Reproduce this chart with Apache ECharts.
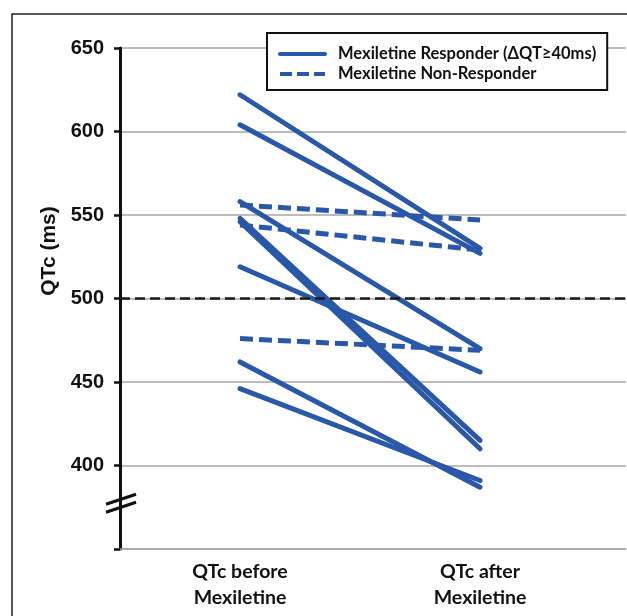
<!DOCTYPE html>
<html>
<head>
<meta charset="utf-8">
<script src="https://cdn.jsdelivr.net/npm/echarts@6/dist/echarts.min.js"></script>
<style>html,body{margin:0;padding:0;background:#fff;}#c{width:627px;height:616px;}</style>
</head>
<body>
<div id="c"></div>
<script>
// ---- data ----
const xLabels = ['QTc before\nMexiletine', 'QTc after\nMexiletine'];
const respBefore = [622, 604, 558, 548, 546, 519, 462, 446];
const respAfter  = [530, 527, 470, 415, 410, 456, 387, 391];
const nonBefore  = [556, 544, 476];
const nonAfter   = [547, 529, 469];
const yTicks = [350, 400, 450, 500, 550, 600, 650];
const threshold = 500;
const respName = 'Mexiletine Responder (ΔQT≥40ms)';
const nonName = 'Mexiletine Non-Responder';

const BLUE = '#2A58A8';
const series = [];
respBefore.forEach((b, i) => {
  series.push({
    name: respName, type: 'line', symbol: 'none', silent: true,
    data: [[0, b], [1, respAfter[i]]],
    lineStyle: { color: BLUE, width: 5, type: 'solid', cap: 'round' },
    itemStyle: { color: BLUE }
  });
});
nonBefore.forEach((b, i) => {
  series.push({
    name: nonName, type: 'line', symbol: 'none', silent: true,
    data: [[0, b], [1, nonAfter[i]]],
    lineStyle: { color: BLUE, width: 5, type: [13, 6] },
    itemStyle: { color: BLUE }
  });
});
// threshold line
series.push({
  type: 'line', data: [], silent: true,
  markLine: {
    silent: true, symbol: 'none', label: { show: false },
    lineStyle: { color: '#1a1a1a', width: 2.5, type: [10, 5] },
    data: [{ yAxis: threshold }]
  }
});

const chart = echarts.init(document.getElementById('c'), null, { renderer: 'canvas' });
chart.setOption({
  animation: false,
  backgroundColor: '#fff',
  grid: { left: 120, right: 1, top: 48, bottom: 67, containLabel: false },
  legend: {
    data: [
      { name: respName, itemStyle: { opacity: 0 }, lineStyle: { width: 4, type: 'solid', color: BLUE } },
      { name: nonName, itemStyle: { opacity: 0 }, lineStyle: { width: 4, type: [12, 5], color: BLUE } }
    ],
    itemStyle: { opacity: 0 },
    orient: 'vertical', left: 267, top: 33,
    padding: [11, 11, 6, 11], itemGap: 0,
    itemWidth: 45, itemHeight: 14, itemTextGap: 8,
    backgroundColor: '#fff', borderColor: '#111', borderWidth: 2,
    textStyle: { fontFamily: 'Lato', fontWeight: 'bold', fontSize: 16.5, color: '#111', lineHeight: 20, padding: [0, 0, 0, 8] }
  },
  xAxis: {
    type: 'value', min: -0.5, max: 1.608,
    axisLine: { show: true, onZero: false, lineStyle: { color: '#A6A6A6', width: 1.5 } },
    axisTick: { show: false },
    splitLine: { show: false },
    axisLabel: {
      customValues: [0, 1],
      formatter: v => xLabels[Math.round(v)],
      fontFamily: 'Lato', fontWeight: 'bold', fontSize: 19.5, color: '#111',
      lineHeight: 26, margin: 10
    }
  },
  yAxis: {
    type: 'value', min: 350, max: 650, interval: 50,
    name: 'QTc (ms)', nameLocation: 'middle', nameGap: 58,
    nameTextStyle: { fontFamily: 'Liberation Sans', fontWeight: 'bold', fontSize: 21, color: '#111', padding: [0, 0, 0, 95] },
    axisLine: { show: true, onZero: false, lineStyle: { color: '#111', width: 3 } },
    axisTick: { show: true, length: 6, lineStyle: { color: '#111', width: 2.5 } },
    splitLine: { show: true, lineStyle: { color: '#A6A6A6', width: 1.5 } },
    axisLabel: {
      formatter: v => (yTicks.indexOf(v) > 0 ? String(v) : ''),
      fontFamily: 'Liberation Sans', fontWeight: 'bold', fontSize: 20, color: '#111', margin: 16
    }
  },
  series: series
});

// decorations: outer frame + axis break glyph
const ax = chart.convertToPixel({ yAxisIndex: 0 }, 378);
const axX = chart.convertToPixel({ xAxisIndex: 0 }, -0.5);
chart.setOption({
  graphic: [
    { type: 'rect', silent: true, z: 100, shape: { x: 12, y: 14, width: 800, height: 800 },
      style: { fill: 'none', stroke: '#222', lineWidth: 1.5 } },
    { type: 'line', silent: true, z: 100, shape: { x1: axX - 14, y1: ax + 2, x2: axX + 16, y2: ax - 8 },
      style: { stroke: '#111', lineWidth: 3 } },
    { type: 'line', silent: true, z: 100, shape: { x1: axX - 14, y1: ax + 10, x2: axX + 16, y2: ax },
      style: { stroke: '#111', lineWidth: 3 } }
  ]
});
</script>
</body>
</html>
